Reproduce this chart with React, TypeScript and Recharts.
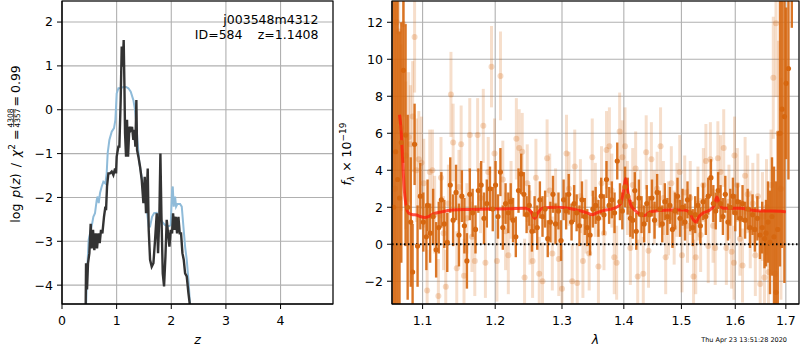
import React from 'react';
import { ComposedChart, Line, Scatter, ErrorBar, XAxis, YAxis, CartesianGrid, ReferenceLine } from 'recharts';

// left panel: log p(z) (black) and scaled chi2 (blue)
const pzZ = [0.433, 0.440, 0.458, 0.476, 0.501, 0.525, 0.543, 0.568, 0.592, 0.617, 0.641, 0.665, 0.690, 0.714, 0.739, 0.769, 0.794, 0.806, 0.824, 0.849, 0.879, 0.910, 0.940, 0.971, 0.989, 1.001, 1.032, 1.050, 1.074, 1.093, 1.111, 1.129, 1.142, 1.154, 1.172, 1.190, 1.209, 1.233, 1.258, 1.282, 1.306, 1.325, 1.343, 1.361, 1.374, 1.398, 1.429, 1.459, 1.490, 1.514, 1.538, 1.569, 1.587, 1.612, 1.642, 1.673, 1.703, 1.734, 1.758, 1.783, 1.801, 1.819, 1.844, 1.868, 1.893, 1.917, 1.941, 1.966, 1.990, 2.015, 2.033, 2.057, 2.082, 2.106, 2.131, 2.155, 2.179, 2.204, 2.228, 2.253, 2.283, 2.314, 2.344, 2.370];
const pzLog = [-4.56, -3.5, -4.1, -3.5, -3.27, -2.6, -3.16, -2.74, -3.2, -2.82, -3.16, -2.82, -3.04, -2.74, -2.82, -2.44, -2.21, -2.29, -1.75, -1.45, -1.45, -1.41, -1.49, -1.34, -1.45, -1.07, -0.84, -0.84, 0.22, 1.44, 0.98, 1.59, 0.6, -0.54, -1.07, -0.23, -1.07, -0.39, -0.46, -0.39, -0.69, -0.46, -0.84, 0.22, -0.92, -1.07, -1.3, -1.6, -2.13, -1.53, -2.36, -1.34, -2.74, -3.42, -3.58, -3.5, -2.97, -2.36, -3.27, -2.36, -1.0, -2.36, -3.73, -4.03, -3.35, -2.51, -2.82, -3.12, -2.74, -2.82, -2.36, -2.74, -2.44, -2.82, -2.44, -2.82, -2.82, -3.27, -3.42, -3.73, -3.8, -4.18, -4.49, -4.9];

const chiZ = [0.440, 0.464, 0.488, 0.513, 0.543, 0.574, 0.604, 0.635, 0.653, 0.672, 0.696, 0.727, 0.757, 0.794, 0.818, 0.836, 0.867, 0.910, 0.952, 0.977, 1.001, 1.032, 1.074, 1.123, 1.172, 1.215, 1.258, 1.306, 1.337, 1.355, 1.380, 1.416, 1.459, 1.502, 1.551, 1.587, 1.612, 1.648, 1.685, 1.734, 1.783, 1.831, 1.886, 1.947, 1.990, 2.015, 2.027, 2.045, 2.070, 2.088, 2.112, 2.161, 2.192, 2.222, 2.253, 2.283, 2.314, 2.344, 2.363];
const chiLog = [-4.49, -3.58, -2.97, -2.82, -2.66, -2.44, -2.36, -2.06, -1.98, -2.13, -1.9, -1.75, -1.64, -1.68, -1.45, -0.99, -0.69, -0.5, -0.42, -0.23, 0.37, 0.49, 0.49, 0.52, 0.52, 0.49, 0.41, 0.22, -0.01, -0.23, -0.69, -1.22, -1.53, -1.9, -2.28, -2.66, -2.66, -2.44, -2.36, -2.35, -2.44, -2.55, -2.63, -2.66, -2.63, -1.83, -1.75, -2.21, -1.98, -2.21, -2.15, -2.15, -2.21, -2.66, -3.12, -3.42, -3.88, -4.45, -4.7];

const zTicks = [0, 1, 2, 3, 4];
const logTicks = [-4, -3, -2, -1, 0, 1, 2];

// right panel: spectrum, two grism orientations + model
const darkLam = [
  1.0625, 1.0650, 1.0675, 1.0700, 1.0723, 1.0750, 1.0778, 1.0805, 1.0845, 1.0869, 1.0895, 1.0934, 1.0970,
  1.1010, 1.1050, 1.1066, 1.1100, 1.1140, 1.1180, 1.1215, 1.1250, 1.1290, 1.1330, 1.1371, 1.1410, 1.1450, 1.1490,
  1.1530, 1.1565, 1.1600, 1.1640, 1.1680, 1.1720, 1.1760, 1.1800, 1.1840, 1.1880, 1.1925, 1.1965,
  1.2005, 1.2040, 1.2075, 1.2110, 1.2150, 1.2190, 1.2225, 1.2260, 1.2300, 1.2340, 1.2380, 1.2420, 1.2460, 1.2500,
  1.2540, 1.2580, 1.2620, 1.2660, 1.2700, 1.2740, 1.2780, 1.2820, 1.2860, 1.2900, 1.2945, 1.2985,
  1.3025, 1.3065, 1.3105, 1.3150, 1.3190, 1.3230, 1.3275, 1.3315, 1.3360, 1.3400, 1.3445, 1.3490,
  1.3535, 1.3580, 1.3625, 1.3670, 1.3712, 1.3755, 1.3800, 1.3845, 1.3890, 1.3935, 1.3975, 1.4020,
  1.4065, 1.4110, 1.4150, 1.4185, 1.4210, 1.4255, 1.4300, 1.4345, 1.4390, 1.4435, 1.4480, 1.4525,
  1.4570, 1.4615, 1.4660, 1.4705, 1.4750, 1.4795, 1.4840, 1.4885, 1.4930, 1.4975,
  1.5020, 1.5065, 1.5110, 1.5160, 1.5205, 1.5250, 1.5300, 1.5345, 1.5395, 1.5445, 1.5490,
  1.5540, 1.5585, 1.5630, 1.5675, 1.5720, 1.5765, 1.5810, 1.5860, 1.5905, 1.5955,
  1.6000, 1.6045, 1.6095, 1.6140, 1.6190, 1.6240, 1.6285, 1.6335, 1.6380, 1.6430, 1.6480,
  1.6525, 1.6570, 1.6600, 1.6640, 1.6680, 1.6720, 1.6760, 1.6800, 1.6836, 1.6881, 1.6923, 1.6971, 1.7006, 1.7053, 1.7122,
];
const darkFlux = [
  2.0, 5.0, 3.5, 2.5, 5.5, 9.4, 5.9, 2.0, 1.2, -1.5, 5.4, -0.1, 2.6,
  1.2, 0.4, 2.1, 0.6, 1.5, -0.3, 0.9, 2.4, 1.1, 0.1, 3.2, 1.3, 2.8, 0.5,
  2.6, 1.0, -0.9, 2.7, 1.7, 0.8, 2.9, 3.2, 1.4, 2.2, 3.0, 1.9,
  3.2, 1.5, 3.9, 0.9, 2.2, 1.7, 2.3, 1.3, 0.4, 2.9, 3.8, 2.7, 1.6, 2.1,
  0.7, 1.6, 0.9, 2.4, 1.5, 1.9, 0.3, 1.2, 2.7, 1.1, 1.8, 0.2,
  2.4, 1.8, 2.7, 1.2, 2.2, 1.7, 1.0, 2.4, 1.5, 0.9, 0.5, 1.9,
  2.1, 1.4, 2.6, 1.6, 3.5, 2.1, 2.4, 1.7, 4.5, 2.3, 1.8, 3.1,
  2.6, 1.4, 1.3, 2.9, 0.7, 2.5, 1.6, 1.1, 2.2, 1.6, 2.5, 1.3,
  2.8, 1.9, 1.1, 2.3, 1.5, 2.1, 0.8, 1.8, 2.6, 1.4,
  2.0, 1.2, 2.4, 1.7, 0.9, 1.6, 2.1, 1.0, 2.3, 1.5, 2.6,
  3.6, 2.2, 1.8, 2.9, 2.2, 1.5, 2.7, 1.2, 2.0, 2.6,
  1.7, 2.3, 1.4, 2.2, 1.3, 1.9, 0.9, 1.6, 0.8, 1.4, 0.5,
  0.9, 0.3, 0.6, 1.2, 0.1, 1.5, 0.4, -2.6, 0.8, 6.0, 7.3, 6.9, 8.7, 9.5, 16,
];
const darkErr = [
  14, 9, 11, 9, 6.5, 5, 6, 5, 3.5, 2.6, 2.2, 2.2, 1.8,
  1.6, 1.8, 1.4, 1.6, 1.5, 1.5, 1.4, 1.5, 1.3, 1.6, 1.5, 1.4, 1.5, 1.7,
  1.4, 1.5, 1.5, 1.4, 1.3, 1.3, 1.2, 1.3, 1.4, 1.3, 1.2, 1.2,
  1.3, 1.2, 1.3, 1.2, 1.1, 1.1, 1.0, 1.2, 1.1, 1.2, 1.1, 1.2, 1.0, 1.1,
  1.1, 1.0, 1.2, 1.0, 1.1, 1.0, 1.0, 1.1, 1.0, 1.1, 1.0, 1.1,
  1.1, 1.0, 1.1, 1.0, 1.0, 1.0, 1.1, 1.0, 1.0, 1.0, 1.1, 1.0,
  1.0, 1.0, 1.0, 1.1, 1.0, 1.0, 1.0, 1.1, 1.0, 1.0, 1.0, 1.1,
  1.0, 1.0, 1.0, 1.0, 1.0, 1.0, 1.0, 1.0, 1.0, 1.0, 1.0, 1.0,
  1.0, 1.0, 1.0, 1.0, 1.0, 1.0, 1.0, 1.0, 1.0, 1.0,
  1.0, 1.0, 1.0, 1.0, 1.0, 1.0, 1.0, 1.0, 1.0, 1.0, 1.0,
  1.0, 1.0, 1.0, 1.0, 1.0, 1.0, 1.0, 1.0, 1.0, 1.0,
  1.0, 1.0, 1.0, 1.0, 1.0, 1.1, 1.1, 1.1, 1.2, 1.2, 1.3,
  1.4, 1.6, 1.8, 2.2, 2.8, 3.2, 3.8, 6, 5.3, 7.2, 7.5, 9, 4.1, 6, 4.3,
];

const lightLam = [
  1.0640, 1.0665, 1.0690, 1.0720, 1.0750, 1.0780, 1.0818, 1.0840, 1.0870, 1.0895, 1.0920, 1.0950, 1.0985,
  1.1015, 1.1060, 1.1095, 1.1130, 1.1160, 1.1210, 1.1245, 1.1280, 1.1310, 1.1345, 1.1380, 1.1410, 1.1460, 1.1490,
  1.1520, 1.1560, 1.1600, 1.1640, 1.1670, 1.1710, 1.1750, 1.1790, 1.1830, 1.1860, 1.1900, 1.1947, 1.1990,
  1.2025, 1.2076, 1.2110, 1.2150, 1.2190, 1.2230, 1.2308, 1.2350, 1.2395, 1.2430, 1.2470, 1.2510,
  1.2550, 1.2600, 1.2650, 1.2700, 1.2770, 1.2810, 1.2850, 1.2900, 1.2950, 1.3000,
  1.3070, 1.3110, 1.3160, 1.3200, 1.3240, 1.3290, 1.3330, 1.3380, 1.3430, 1.3480,
  1.3530, 1.3580, 1.3630, 1.3671, 1.3712, 1.3760, 1.3800, 1.3840, 1.3880, 1.3930, 1.3975, 1.4020,
  1.4060, 1.4110, 1.4150, 1.4200, 1.4235, 1.4280, 1.4330, 1.4380, 1.4420, 1.4470, 1.4520,
  1.4570, 1.4630, 1.4680, 1.4720, 1.4770, 1.4820, 1.4870, 1.4920, 1.4970,
  1.5010, 1.5060, 1.5110, 1.5160, 1.5220, 1.5260, 1.5300, 1.5350, 1.5400, 1.5447, 1.5490,
  1.5530, 1.5580, 1.5620, 1.5670, 1.5720, 1.5780, 1.5830, 1.5880, 1.5930, 1.5975, 1.5985,
  1.6040, 1.6090, 1.6140, 1.6190, 1.6240, 1.6290, 1.6340, 1.6390, 1.6440, 1.6485,
  1.6530, 1.6570, 1.6610, 1.6650, 1.6700, 1.6746, 1.6780, 1.6800, 1.6850, 1.6900,
];
const lightFlux = [
  3.0, 12.0, 11.5, 6.3, 11.9, 4.8, 5.8, 5.4, 6.9, 11.2, 4.0, 4.6, 4.4,
  3.3, -2.5, 3.9, 4.0, 1.6, -2.8, 3.6, 0.6, -2.3, 2.2, 8.1, 5.5, -1.3, 3.1,
  5.4, -1.7, 1.4, 5.9, 0.4, -0.9, 5.9, 2.5, 6.4, -1.0, 3.9, 9.6, 4.9,
  -0.9, 9.1, 3.5, 0.7, -0.6, 2.4, 5.7, 5.2, 5.0, -1.8, 3.3, 0.9,
  -0.9, 3.6, -1.6, -2.0, 4.65, 2.9, -0.5, 2.1, -0.8, -2.4,
  4.9, 3.0, -2.0, 4.2, -2.1, 2.6, -0.9, 1.5, -0.5, 4.7,
  2.4, -1.2, 3.3, 0.6, 5.1, 5.3, 2.9, -0.7, -1.0, 6.1, 4.7, 5.3,
  2.5, -0.2, 3.2, 4.1, -1.75, 2.0, -1.6, 4.97, -0.35, 4.6, 2.0,
  3.0, 5.3, 2.5, -0.7, 1.4, 3.3, 0.9, 2.4, 3.9,
  -0.6, 2.8, 1.0, 2.5, -1.75, -0.7, 2.2, 0.5, 3.2, 4.5, -0.1,
  4.6, 1.0, -0.2, 4.65, 3.9, 5.2, -0.2, 2.3, -0.4, -1.0, 4.8,
  3.2, 0.3, -1.15, 3.7, 2.7, 0.8, 2.2, -0.6, 2.6, -2.15,
  1.5, -1.8, 2.0, -1.5, 3.2, 9.0, -1.6, 11.95, 6.0, 3.0,
];
const lightErr = [
  10, 6, 5, 4.5, 5, 4, 3.5, 3.2, 3, 3, 2.8, 2.6, 2.5,
  2.4, 2.2, 2.3, 2.2, 2.1, 2.0, 2.2, 2.0, 2.0, 2.1, 2.3, 2.1, 2.0, 2.0,
  2.1, 2.0, 1.9, 2.0, 1.9, 1.9, 2.0, 1.9, 2.0, 1.9, 1.9, 2.2, 1.9,
  2.2, 2.4, 2.1, 2.1, 2.1, 2.1, 2.2, 2.1, 2.1, 2.1, 2.1, 2.0,
  2.0, 2.1, 2.0, 2.1, 2.1, 2.0, 2.0, 2.0, 2.0, 2.1,
  2.1, 2.0, 2.0, 2.0, 2.1, 2.0, 2.0, 2.0, 2.0, 2.1,
  2.0, 2.0, 2.0, 2.0, 2.1, 2.1, 2.0, 2.0, 2.0, 2.1, 2.0, 2.1,
  2.0, 2.0, 2.0, 2.0, 2.0, 2.0, 2.0, 2.0, 2.0, 2.0, 2.0,
  2.0, 2.1, 2.0, 2.0, 2.0, 2.0, 2.0, 2.0, 2.0,
  2.0, 2.0, 2.0, 2.0, 2.0, 2.0, 2.0, 2.0, 2.0, 2.0, 2.0,
  2.0, 2.0, 2.0, 2.0, 2.0, 2.1, 2.0, 2.0, 2.0, 2.0, 2.1,
  2.0, 2.0, 2.0, 2.1, 2.1, 2.1, 2.2, 2.2, 2.3, 2.3,
  2.4, 2.5, 2.6, 2.8, 3.0, 3.3, 3.5, 4, 5, 6,
];

const modelLam = [1.070, 1.072, 1.074, 1.076, 1.078, 1.080, 1.083, 1.087, 1.092, 1.097, 1.103, 1.108, 1.115, 1.125, 1.140, 1.160, 1.190, 1.220, 1.245, 1.252, 1.258, 1.263, 1.270, 1.290, 1.310, 1.330, 1.343, 1.348, 1.355, 1.370, 1.385, 1.395, 1.400, 1.403, 1.407, 1.412, 1.420, 1.428, 1.435, 1.445, 1.460, 1.480, 1.505, 1.515, 1.521, 1.526, 1.532, 1.540, 1.552, 1.560, 1.565, 1.570, 1.576, 1.590, 1.610, 1.630, 1.650, 1.670, 1.690, 1.700];
const modelFlux = [7.0, 6.2, 4.6, 3.0, 2.2, 1.8, 1.65, 1.6, 1.58, 1.5, 1.45, 1.5, 1.65, 1.75, 1.85, 1.88, 1.9, 1.92, 1.95, 1.8, 1.4, 1.7, 1.95, 2.0, 1.95, 1.8, 1.65, 1.6, 1.7, 1.85, 1.95, 2.2, 3.0, 3.55, 2.8, 2.1, 1.8, 1.6, 1.55, 1.75, 1.82, 1.85, 1.85, 1.7, 1.35, 1.2, 1.5, 1.7, 1.85, 2.1, 2.55, 2.2, 1.95, 1.95, 1.95, 1.85, 1.8, 1.8, 1.78, 1.75];

const lamTicks = [1.1, 1.2, 1.3, 1.4, 1.5, 1.6, 1.7];
const fluxTicks = [-2, 0, 2, 4, 6, 8, 10, 12];

const pzData = pzZ.map((z, i) => ({ z, y: pzLog[i] }));
const chiData = chiZ.map((z, i) => ({ z, y: chiLog[i] }));
const darkData = darkLam.map((lam, i) => ({ lam, f: darkFlux[i], e: darkErr[i] }));
const lightData = lightLam.map((lam, i) => ({ lam, f: lightFlux[i], e: lightErr[i] }));
const modelData = modelLam.map((lam, i) => ({ lam, f: modelFlux[i] }));

const ORANGE = '#d66710';
const FONT = "'DejaVu Sans', sans-serif";
const tickStyle = { fontSize: 12.5, fill: '#000', fontFamily: FONT };
const minus = (v: number) => (v < 0 ? '\u2212' + Math.abs(v) : String(v));

const dot = (r: number, opacity: number) => (props: any) =>
  props.cx == null ? <g /> : <circle cx={props.cx} cy={props.cy} r={r} fill={ORANGE} fillOpacity={opacity} />;

// error bars are not clipped by recharts, clip them to the plot box
const clipCss = `
.spec-chart .recharts-errorBars, .spec-chart .recharts-errorBar, .spec-chart .recharts-scatter {
  clip-path: url(#spec-clip);
}`;

export default function App() {
  return (
    <div style={{ position: 'absolute', left: 0, top: 0, width: 800, height: 350, background: '#fff', fontFamily: FONT }}>
      <style>{clipCss}</style>
      <svg width={0} height={0} style={{ position: 'absolute' }}>
        <defs>
          <clipPath id="spec-clip" clipPathUnits="userSpaceOnUse">
            <rect x={62} y={1} width={407} height={303} />
          </clipPath>
        </defs>
      </svg>
      <div style={{ position: 'absolute', left: 0, top: 0 }}>
        <ComposedChart width={340} height={350} margin={{ top: 1, right: 7, bottom: 0, left: 0 }}>
          <CartesianGrid stroke="#b0b0b0" strokeWidth={1.1} />
          <XAxis type="number" dataKey="z" domain={[0, 4.96]} ticks={zTicks} allowDataOverflow height={46}
            tick={tickStyle} tickSize={5} tickMargin={7} stroke="#000" />
          <YAxis type="number" dataKey="y" domain={[-4.43, 2.48]} ticks={logTicks} allowDataOverflow width={62}
            tick={tickStyle} tickSize={5} tickMargin={4} stroke="#000" tickFormatter={minus} />
          <Line data={chiData} dataKey="y" stroke="#8fbbd9" strokeWidth={2} dot={false} isAnimationActive={false} />
          <Line data={pzData} dataKey="y" stroke="#333" strokeWidth={2.4} dot={false} isAnimationActive={false} />
        </ComposedChart>
      </div>
      <div className="spec-chart" style={{ position: 'absolute', left: 330, top: 0 }}>
        <ComposedChart width={470} height={350} margin={{ top: 1, right: 1, bottom: 0, left: 0 }}>
          <CartesianGrid stroke="#b0b0b0" strokeWidth={1.1} />
          <XAxis type="number" dataKey="lam" scale="log" domain={[1.0604, 1.727]} ticks={lamTicks} allowDataOverflow height={46}
            tick={tickStyle} tickSize={5} tickMargin={7} stroke="#000" tickFormatter={(v: number) => v.toFixed(1)} />
          <YAxis type="number" dataKey="f" domain={[-3.23, 13.15]} ticks={fluxTicks} allowDataOverflow width={62}
            tick={tickStyle} tickSize={5} tickMargin={4} stroke="#000" tickFormatter={minus} />
          <Scatter data={lightData} dataKey="f" shape={dot(3, 0.25)} isAnimationActive={false}>
            <ErrorBar dataKey="e" direction="y" width={0} stroke={ORANGE} strokeWidth={3} strokeOpacity={0.22} />
          </Scatter>
          <Scatter data={darkData} dataKey="f" shape={dot(2.6, 1)} isAnimationActive={false}>
            <ErrorBar dataKey="e" direction="y" width={0} stroke={ORANGE} strokeWidth={2.4} strokeOpacity={0.9} />
          </Scatter>
          <Line data={modelData} dataKey="f" type="monotone" stroke="#ff1a0a" strokeOpacity={0.75} strokeWidth={3}
            dot={false} isAnimationActive={false} />
          <ReferenceLine y={0} stroke="#000" strokeWidth={2} strokeDasharray="1.5 2.5" />
        </ComposedChart>
      </div>
      <svg width={800} height={350} style={{ position: 'absolute', left: 0, top: 0, pointerEvents: 'none' }}
        fontFamily={FONT}>
        <rect x={62} y={1} width={271} height={303} fill="none" stroke="#000" strokeWidth={1.1} />
        <rect x={392} y={1} width={407} height={303} fill="none" stroke="#000" strokeWidth={1.1} />

        <text x={318.5} y={24} fontSize={12.5} textAnchor="end">j003548m4312</text>
        <text x={242.5} y={38.5} fontSize={12.5} textAnchor="end">ID=584</text>
        <text x={318.5} y={38.5} fontSize={12.5} textAnchor="end">z=1.1408</text>

        <g transform="translate(19.5,152.5) rotate(-90)">
          <text x={23} y={0} fontSize={12.5} textAnchor="end">
            log<tspan dx={6} fontStyle="italic">p</tspan>(<tspan fontStyle="italic">z</tspan>)<tspan dx={6}>/</tspan>
            <tspan dx={6} fontStyle="italic">χ</tspan><tspan fontSize={9} dy={-5}>2</tspan><tspan dx={4} dy={5}>=</tspan>
          </text>
          <text x={34.5} y={-7} fontSize={7.5} textAnchor="middle">4308</text>
          <line x1={25.5} x2={43.5} y1={-5.8} y2={-5.8} stroke="#000" strokeWidth={0.7} />
          <text x={34.5} y={0.5} fontSize={7.5} textAnchor="middle">4357</text>
          <text x={46} y={0} fontSize={12.5}>=<tspan dx={3}>0.99</tspan></text>
        </g>
        <text x={197.5} y={343.5} fontSize={12.5} fontStyle="italic" textAnchor="middle">z</text>

        <g transform="translate(350.5,154) rotate(-90)">
          <text x={0} y={0} fontSize={12.5} textAnchor="middle">
            <tspan fontStyle="italic">f</tspan><tspan fontSize={9} fontStyle="italic" dy={3}>λ</tspan>
            <tspan dy={-3}> × 10</tspan><tspan fontSize={9} dy={-5}>−19</tspan>
          </text>
        </g>
        <text x={595.5} y={344} fontSize={12.5} fontStyle="italic" textAnchor="middle">λ</text>
        <text x={787} y={342} fontSize={6.5} textAnchor="end">Thu Apr 23 13:51:28 2020</text>
      </svg>
    </div>
  );
}
